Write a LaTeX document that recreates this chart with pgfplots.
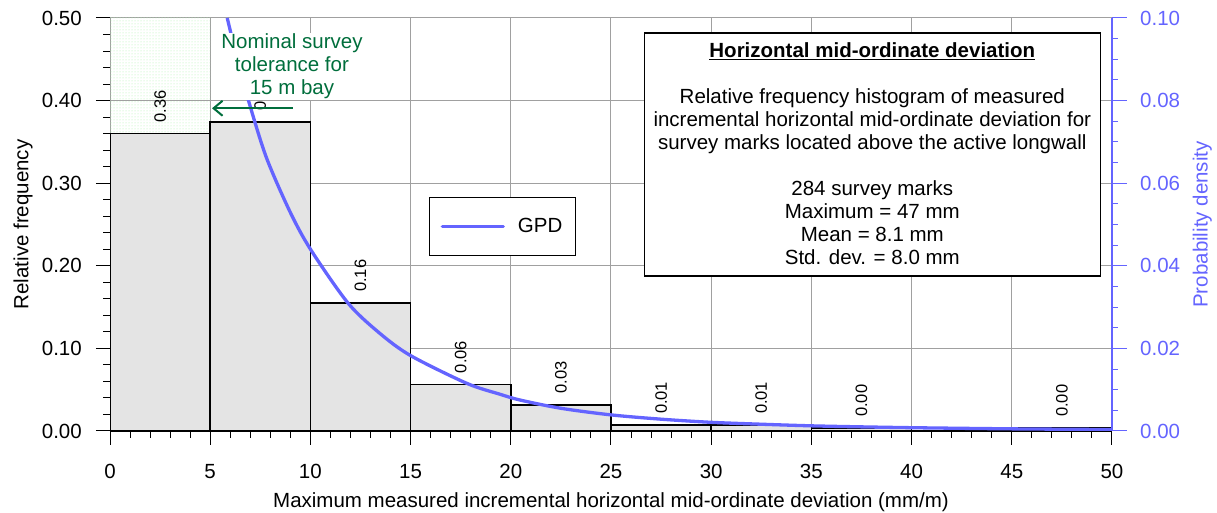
\documentclass[border=0pt]{standalone}
\usepackage{pgfplots}
\pgfplotsset{compat=1.18}
\usepackage{fontspec}
\setmainfont{Liberation Sans}
\usetikzlibrary{patterns,arrows.meta}
\definecolor{gpd}{RGB}{100,100,255}
\definecolor{gridgray}{RGB}{160,160,160}
\definecolor{barfill}{RGB}{228,228,228}
\definecolor{annogreen}{RGB}{0,110,60}
\definecolor{dotgreen}{RGB}{170,240,170}
\newcommand{\mainfont}{\fontsize{20.5}{23}\selectfont}
\begin{document}
\begin{tikzpicture}[x=1pt,y=1pt]
\useasboundingbox (0,0) rectangle (1217,513);
\begin{axis}[
  at={(110pt,82pt)}, anchor=south west,
  scale only axis, width=1002pt, height=413pt,
  xmin=0, xmax=50, ymin=0, ymax=0.5,
  axis x line*=bottom, axis y line*=left,
  x axis line style={black, line width=1.8pt},
  y axis line style={gridgray, line width=1pt},
  xtick={0,5,10,15,20,25,30,35,40,45,50},
  ytick={0,0.1,0.2,0.3,0.4,0.5},
  minor x tick num=4, minor y tick num=4,
  tick align=outside,
  major tick length=14pt, minor tick length=7pt,
  tick style={black, line width=1pt},
  grid=major,
  major grid style={gridgray, line width=1pt},
  scaled y ticks=false,
  tick label style={font=\mainfont, inner sep=0pt},
  /pgf/number format/assume math mode=true,
  yticklabel style={/pgf/number format/fixed, /pgf/number format/fixed zerofill, /pgf/number format/precision=2},
  xticklabel shift=19pt,
  yticklabel shift=14pt,
  xlabel={Maximum measured incremental horizontal mid-ordinate deviation (mm/m)},
  ylabel={Relative frequency},
  label style={font=\mainfont},
  xlabel style={at={(axis description cs:0.5,-0.1714)}, anchor=center},
  ylabel style={at={(axis description cs:-0.0868,0.5)}, anchor=center},
]
\addplot[draw=none, pattern=dots, pattern color=dotgreen] coordinates {(0,0.36) (5,0.36) (5,0.5) (0,0.5)} -- cycle;
\addplot[ybar interval, fill=barfill, draw=black, line width=1.5pt] coordinates {
(0,0.360) (5,0.374) (10,0.155) (15,0.0565) (20,0.0317) (25,0.00704) (30,0.00704) (35,0.00352) (40,0) (45,0.00352) (50,0.00352)};
\addplot[draw=none, mark=none, nodes near coords, point meta=explicit symbolic,
  nodes near coords align={anchor=west},
  every node near coord/.append style={rotate=90, anchor=west, font=\fontsize{16.5}{19}\selectfont, inner xsep=11pt, inner ysep=0pt, text=black}]
  coordinates {(2.5,0.360)[0.36] (7.5,0.374)[0.37] (12.5,0.155)[0.16] (17.5,0.0565)[0.06] (22.5,0.0317)[0.03] (27.5,0.00704)[0.01] (32.5,0.00704)[0.01] (37.5,0.00352)[0.00] (47.5,0.00352)[0.00]};
\end{axis}
\begin{axis}[
  at={(110pt,82pt)}, anchor=south west,
  scale only axis, width=1002pt, height=413pt,
  xmin=0, xmax=50, ymin=0, ymax=0.1,
  axis x line=none, axis y line*=right,
  y axis line style={gpd, line width=1.5pt},
  ytick={0,0.02,0.04,0.06,0.08,0.1},
  minor y tick num=3,
  tick align=outside, major tick length=15pt, minor tick length=6pt,
  tick style={gpd, line width=1pt},
  scaled y ticks=false,
  tick label style={font=\mainfont, text=gpd, inner sep=0pt},
  /pgf/number format/assume math mode=true,
  yticklabel style={/pgf/number format/fixed, /pgf/number format/fixed zerofill, /pgf/number format/precision=2},
  yticklabel shift=13pt,
  ylabel={Probability density},
  ylabel style={font=\mainfont, text=gpd, at={(axis description cs:1.0902,0.5)}, anchor=center},
  legend style={at={(rel axis cs:0.3184,0.5666)}, anchor=north west, draw=black, line width=1.3pt, fill=white, font=\mainfont, inner xsep=11pt, inner ysep=19pt, nodes={inner sep=2pt}, cells={anchor=west}},
  legend image code/.code={\draw[#1, line cap=round] (0pt,0pt) -- (61pt,0pt); \path (72pt,0pt);},
]
\addplot[gpd, line width=3.3pt, smooth] coordinates {
(5.85,0.1000) (6.40,0.0891) (6.99,0.0787) (7.82,0.0660) (9.00,0.0529) (10.03,0.0438)
(11.89,0.0309) (13.50,0.0235) (15.02,0.0182) (17.80,0.01155) (19.46,0.0089) (20.46,0.0075)
(22.50,0.0055) (25.00,0.0039) (27.50,0.00286) (30.00,0.0021) (32.50,0.00164) (35.00,0.00125)
(37.50,0.0010) (40.00,0.0008) (42.50,0.00065) (45.00,0.00052) (47.50,0.00043) (50.00,0.00035)};
\addlegendentry{GPD}
\node[fill=white, inner xsep=1pt, inner ysep=1pt, anchor=north, align=center, text=annogreen, font=\mainfont] at (rel axis cs:0.1816,0.9649) {Nominal survey\\tolerance for\\15 m bay};
\draw[annogreen, line width=2pt, -{Straight Barb[length=9pt, width=15pt]}] (rel axis cs:0.1826,0.7814) -- (rel axis cs:0.1018,0.7814);
\node[draw=black, line width=1.5pt, fill=white, anchor=north, align=center, font=\mainfont, minimum width=456pt, inner xsep=5pt, inner ysep=9.5pt] at (rel axis cs:0.7608,0.9654) {\underline{\textbf{Horizontal mid-ordinate deviation}}\\[23pt]
Relative frequency histogram of measured\\
incremental horizontal mid-ordinate deviation for\\
survey marks located above the active longwall\\[23pt]
284 survey marks\\
Maximum = 47 mm\\
Mean = 8.1 mm\\
Std. dev. = 8.0 mm\rule[-2.2pt]{0pt}{2.2pt}};
\end{axis}
\end{tikzpicture}
\end{document}
